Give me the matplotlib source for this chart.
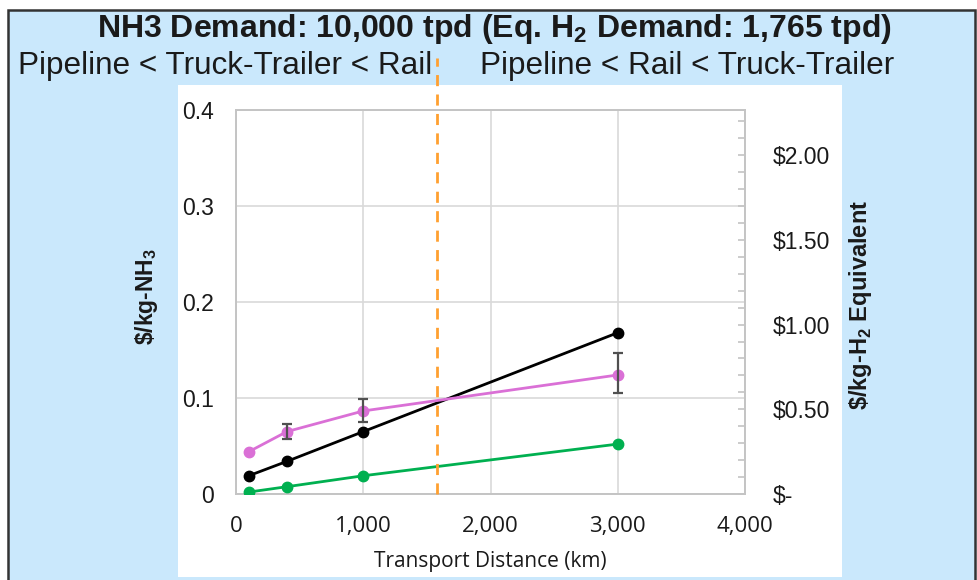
import matplotlib
matplotlib.use("Agg")
import matplotlib.pyplot as plt
from matplotlib.patches import Rectangle
from matplotlib.lines import Line2D
from matplotlib.ticker import FuncFormatter, MultipleLocator

plt.rcParams['font.family'] = ['Liberation Sans', 'DejaVu Sans']
plt.rcParams['mathtext.fontset'] = 'custom'
plt.rcParams['mathtext.rm'] = 'Liberation Sans'
plt.rcParams['mathtext.bf'] = 'Liberation Sans:bold'

# transport distance (km)
distance = [100, 400, 1000, 3000]

# $/kg-NH3 by mode
rail = [0.019, 0.034, 0.065, 0.168]
truck_trailer = [0.044, 0.065, 0.0865, 0.124]
truck_err_low = [0.0, 0.0075, 0.0115, 0.0185]
truck_err_high = [0.0, 0.0075, 0.0125, 0.0225]
pipeline = [0.002, 0.0076, 0.019, 0.052]

crossover_km = 1580
nh3_per_h2 = 10000 / 1765

W, H = 977, 580
fig = plt.figure(figsize=(W / 100, H / 100), dpi=100)
fig.patch.set_facecolor('white')

# light blue slide panel with dark border, white chart area
fig.add_artist(Rectangle((8 / W, -0.01), 967 / W, (H - 10) / H + 0.01,
                         transform=fig.transFigure, facecolor='#cae8fc',
                         edgecolor='#333333', lw=1.8, zorder=-2))
fig.add_artist(Rectangle((178 / W, 3 / H), 664 / W, 492 / H,
                         transform=fig.transFigure, facecolor='white',
                         edgecolor='none', zorder=-1))

ax = fig.add_axes([236 / W, (H - 494) / H, 509 / W, 384 / H])
ax.set_facecolor('none')

ax.plot(distance, rail, color='black', lw=2, marker='o', ms=7.5, zorder=3)
ax.plot(distance, truck_trailer, color='#da70d6', lw=2, marker='o', ms=7.5, zorder=3)
ax.errorbar(distance[1:], truck_trailer[1:],
            yerr=[truck_err_low[1:], truck_err_high[1:]], fmt='none',
            ecolor='#505050', elinewidth=1.6, capsize=3.5, capthick=1.6, zorder=4)
ax.plot(distance, pipeline, color='#00b050', lw=2, marker='o', ms=7.5, zorder=3)

ax.set_xlim(0, 4000)
ax.set_ylim(0, 0.4)
ax.set_xticks([0, 1000, 2000, 3000, 4000])
ax.set_yticks([0, 0.1, 0.2, 0.3, 0.4])
ax.xaxis.set_major_formatter(FuncFormatter(lambda v, p: f'{v:,.0f}'))
ax.yaxis.set_major_formatter(FuncFormatter(lambda v, p: '0' if v == 0 else f'{v:.1f}'))
ax.grid(True, color='#d9d9d9', lw=1.2)
ax.set_axisbelow(True)
for s in ax.spines.values():
    s.set_color('#c4c4c4')
    s.set_linewidth(1.4)
ax.tick_params(axis='y', length=0, pad=16, labelsize=16.5, labelcolor='#1a1a1a')
ax.tick_params(axis='x', length=0, pad=16, labelsize=16, labelcolor='#1a1a1a')
for lab in ax.get_xticklabels():
    lab.set_family(['Open Sans', 'DejaVu Sans'])

ax2 = ax.twinx()
ax2.set_ylim(0, 0.4 * nh3_per_h2)
ax2.yaxis.set_major_locator(MultipleLocator(0.5))
ax2.yaxis.set_minor_locator(MultipleLocator(0.1))
ax2.yaxis.set_major_formatter(FuncFormatter(lambda v, p: '$-' if v == 0 else f'${v:.2f}'))
ax2.tick_params(axis='y', which='both', direction='in', length=5, width=1.2,
                color='#c4c4c4', pad=20, labelsize=16.5, labelcolor='#1a1a1a')
for s in ax2.spines.values():
    s.set_visible(False)

# crossover marker
fig.add_artist(Line2D([437 / W, 437 / W], [(H - 494) / H, (H - 58) / H],
                      transform=fig.transFigure, color='#ffa030', lw=2,
                      dashes=(4, 3), zorder=5))

fig.text(494 / W, (H - 29) / H,
         r'NH3 Demand: 10,000 tpd (Eq. $\mathbf{H}_\mathbf{2}$ Demand: 1,765 tpd)',
         ha='center', va='center', fontsize=23, fontweight='bold', color='#1a1a1a')
fig.text(225 / W, (H - 66) / H, 'Pipeline < Truck-Trailer < Rail',
         ha='center', va='center', fontsize=22.7, color='#1a1a1a')
fig.text(687 / W, (H - 66) / H, 'Pipeline < Rail < Truck-Trailer',
         ha='center', va='center', fontsize=22.7, color='#1a1a1a')

fig.text(147 / W, (H - 296) / H, r'\$/kg-NH$_\mathbf{3}$', rotation=90,
         ha='center', va='center', fontsize=16.5, fontweight='bold', color='#1a1a1a')
fig.text(861 / W, (H - 305) / H, r'\$/kg-H$_\mathbf{2}$ Equivalent', rotation=90,
         ha='center', va='center', fontsize=17, fontweight='bold', color='#1a1a1a')
fig.text(490 / W, (H - 561) / H, 'Transport Distance (km)',
         ha='center', va='center', fontsize=15, color='#1a1a1a',
         family=['Open Sans', 'DejaVu Sans'])

fig.savefig('out.png', dpi=100)
